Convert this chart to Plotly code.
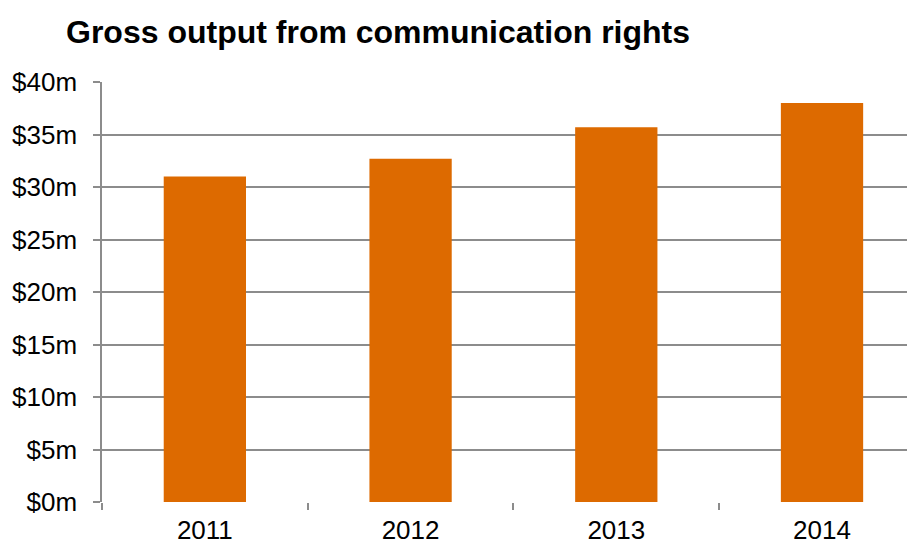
import plotly.graph_objects as go

years = ["2011", "2012", "2013", "2014"]
values = [31.0, 32.7, 35.7, 38.0]
y_ticks = [0, 5, 10, 15, 20, 25, 30, 35, 40]
y_labels = ["$%dm" % v for v in y_ticks]

FONT = "Liberation Sans, Arial, sans-serif"
GRID = "#8c8c8c"
W, H = 907, 537  # page body adds an 8px offset

fig = go.Figure(go.Bar(
    x=years, y=values,
    marker=dict(color="#dd6a00", line=dict(width=0)),
    width=0.4,
))

fig.update_layout(
    width=W, height=H,
    margin=dict(l=94, r=0, t=74, b=34),
    paper_bgcolor="white", plot_bgcolor="white",
    showlegend=False,
    font=dict(family=FONT, size=24, color="black"),
    title=dict(text="<b>Gross output from communication rights</b>",
               x=58/W, xanchor="left", y=1-24/H, yanchor="middle",
               font=dict(family=FONT, size=32, color="black")),
)
fig.update_xaxes(
    type="category", range=[-0.5, 3.452],
    showgrid=False, showline=False, zeroline=False,
    ticks="outside", tickson="boundaries", ticklen=7, tickwidth=1.5, tickcolor=GRID,
    ticklabelstandoff=10,
    tickfont=dict(family=FONT, size=26, color="black"),
)
fig.update_yaxes(
    range=[0, 40], tickvals=y_ticks, ticktext=y_labels,
    showgrid=True, gridcolor=GRID, gridwidth=1.5,
    showline=True, linecolor=GRID, linewidth=1.5,
    zeroline=False,
    ticks="outside", ticklen=7, tickwidth=1.5, tickcolor=GRID,
    ticklabelstandoff=11,
    tickfont=dict(family=FONT, size=26, color="black"),
)

fig.write_html("out.html")
